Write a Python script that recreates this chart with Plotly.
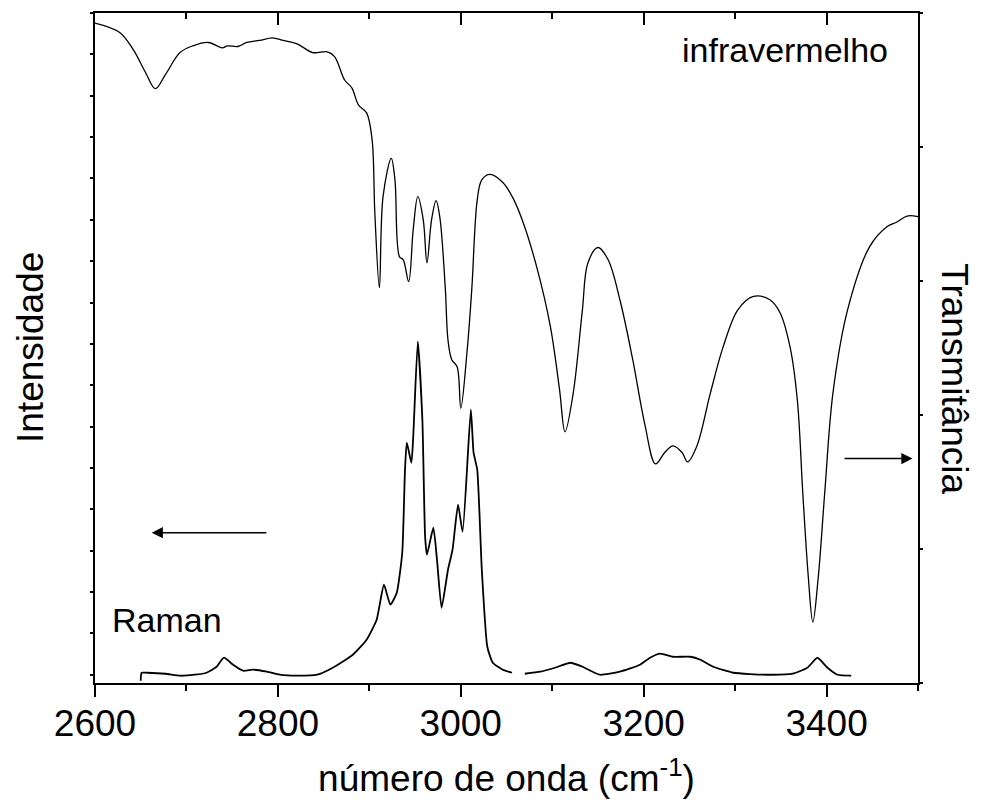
import plotly.graph_objects as go

# Infrared transmittance spectrum (wavenumber in cm-1, transmittance in %)
wn_ir = [2600, 2627, 2642, 2655, 2666, 2677, 2693, 2707, 2724, 2739, 2745, 2756, 2766,
         2780, 2794, 2806, 2821, 2838, 2854, 2862, 2873, 2881, 2888, 2897, 2903, 2906,
         2911, 2915, 2924, 2928, 2933, 2937, 2943, 2948, 2953, 2959, 2963, 2968, 2973,
         2977, 2983, 2986, 2990, 2996, 3000, 3007, 3012, 3018, 3023, 3032, 3046, 3057,
         3068, 3083, 3098, 3108, 3114, 3123, 3133, 3139, 3150, 3161, 3174, 3188, 3201,
         3213, 3223, 3232, 3242, 3248, 3258, 3273, 3287, 3303, 3320, 3338, 3349, 3360,
         3368, 3374, 3380, 3385, 3391, 3398, 3407, 3423, 3447, 3466, 3477, 3488, 3500]
trans_ir = [98.5, 97.1, 94.5, 91.2, 88.7, 90.8, 94.1, 95.1, 95.6, 94.8, 95.1, 95.0, 95.6,
            95.9, 96.3, 95.9, 95.4, 94.1, 94.2, 93.5, 90.0, 88.8, 86.3, 85.1, 81.1, 70.2,
            59.0, 72.6, 78.3, 75.1, 63.6, 63.2, 59.9, 67.7, 72.6, 69.1, 62.7, 69.1, 72.0,
            69.6, 59.1, 51.2, 48.3, 47.2, 41.0, 49.7, 58.7, 72.1, 75.1, 75.9, 74.7, 72.4,
            68.8, 62.1, 53.2, 43.8, 37.5, 43.3, 55.7, 62.7, 65.0, 63.2, 57.2, 48.3, 38.8,
            32.7, 34.4, 35.4, 34.4, 33.0, 35.3, 43.3, 50.2, 55.7, 57.7, 57.2, 55.3, 50.2,
            42.3, 28.4, 15.9, 9.1, 15.9, 28.4, 43.3, 55.7, 65.1, 68.1, 68.8, 69.7, 69.6]

# Raman spectrum, measured in two windows (arbitrary intensity units)
wn_raman_a = [2650, 2651, 2657, 2677, 2693, 2709, 2722, 2733, 2741, 2751, 2762, 2773,
              2788, 2802, 2821, 2843, 2860, 2882, 2897, 2908, 2916, 2923, 2930, 2936,
              2939, 2941, 2946, 2948, 2953, 2958, 2961, 2963, 2970, 2974, 2979, 2986,
              2991, 2997, 3002, 3011, 3014, 3018, 3023, 3029, 3035, 3046, 3056]
int_raman_a = [-145, 48, 48, 24, -24, 0, 48, 193, 411, 242, 97, 121,
               73, 0, -24, 0, 169, 484, 846, 1330, 2176, 1693, 1983, 2950,
               4957, 5610, 5126, 5755, 8052, 6166, 3337, 2902, 3554, 2781, 1620, 2539,
               3023, 4111, 3458, 6408, 5368, 4957, 2539, 677, 290, 121, 48]
wn_raman_b = [3070, 3087, 3103, 3120, 3133, 3152, 3174, 3196, 3207, 3218, 3232,
              3251, 3262, 3276, 3298, 3335, 3363, 3379, 3390, 3401, 3412, 3427]
int_raman_b = [24, 73, 169, 290, 193, 0, 73, 242, 411, 508, 435,
               435, 363, 193, 48, 0, 24, 169, 411, 169, 0, -24]

x_range = [2600, 3500]
x_ticks = [2600, 2800, 3000, 3200, 3400]
FONT = "Liberation Sans, Arial, sans-serif"

fig = go.Figure()

fig.add_trace(go.Scatter(
    x=wn_raman_a + [None] + wn_raman_b,
    y=int_raman_a + [None] + int_raman_b,
    mode="lines", line=dict(color="black", width=1.8, shape="spline", smoothing=0.5),
    connectgaps=False, showlegend=False, hoverinfo="skip", yaxis="y"))

fig.add_trace(go.Scatter(
    x=wn_ir, y=trans_ir, mode="lines",
    line=dict(color="black", width=1.3, shape="spline", smoothing=1.0),
    showlegend=False, yaxis="y2"))

# empty carrier so the top frame axis (inward ticks) is drawn
fig.add_trace(go.Scatter(
    x=x_range, y=[0, 0], mode="markers", marker=dict(opacity=0, size=1),
    showlegend=False, hoverinfo="skip", xaxis="x2", yaxis="y"))

axis_common = dict(showline=True, linecolor="black", linewidth=2, showgrid=False,
                   zeroline=False, tickcolor="black")

fig.update_layout(
    width=985, height=806,
    margin=dict(l=95, r=67, t=13, b=123),
    paper_bgcolor="white", plot_bgcolor="white",
    font=dict(family=FONT, color="black"),
    xaxis=dict(range=x_range, tickvals=x_ticks, ticks="outside", ticklen=12,
               tickwidth=2, tickfont=dict(size=37, family=FONT), ticklabelstandoff=-5,
               minor=dict(dtick=100, tick0=2600, ticks="outside", ticklen=6,
                          tickwidth=2, tickcolor="black"),
               title=dict(text="número de onda (cm<sup>-1</sup>)",
                          font=dict(size=37, family=FONT), standoff=22),
               **axis_common),
    xaxis2=dict(range=x_range, overlaying="x", side="top", anchor="y",
                tickvals=x_ticks, ticks="inside", ticklen=12, tickwidth=2,
                showticklabels=False,
                minor=dict(dtick=100, tick0=2600, ticks="inside", ticklen=6,
                           tickwidth=2, tickcolor="black"),
                **axis_common),
    yaxis=dict(range=[-200, 16000], dtick=1000, tick0=0, ticks="outside", ticklen=3,
               tickwidth=1.5, showticklabels=False, **axis_common),
    yaxis2=dict(range=[0, 100], dtick=20, tick0=0, overlaying="y", side="right",
                ticks="outside", ticklen=3, tickwidth=1.5, showticklabels=False,
                **axis_common),
)

annotations = [
    dict(text="Intensidade", xref="paper", yref="paper", x=0, y=0.5, xshift=-65,
         xanchor="center", yanchor="middle", textangle=-90, showarrow=False,
         font=dict(size=37, family=FONT)),
    dict(text="Transmitância", xref="paper", yref="paper", x=1, y=0.455, xshift=37,
         xanchor="center", yanchor="middle", textangle=90, showarrow=False,
         font=dict(size=37, family=FONT)),
    dict(text="infravermelho", xref="x", yref="paper", x=3355, y=0.945,
         xanchor="center", yanchor="middle", showarrow=False,
         font=dict(size=34, family=FONT)),
    dict(text="Raman", xref="x", yref="paper", x=2679, y=0.094,
         xanchor="center", yanchor="middle", showarrow=False,
         font=dict(size=34, family=FONT)),
    # arrows pointing to the axis each spectrum belongs to
    dict(x=2662, y=3434, ax=2789, ay=3434, xref="x", yref="y", axref="x", ayref="y",
         showarrow=True, arrowhead=2, arrowsize=1.6, arrowwidth=1.4, arrowcolor="black",
         text=""),
    dict(x=3494, y=33.5, ax=3418, ay=33.5, xref="x", yref="y2", axref="x", ayref="y2",
         showarrow=True, arrowhead=2, arrowsize=1.6, arrowwidth=1.4, arrowcolor="black",
         text=""),
]
fig.update_layout(annotations=annotations)

fig.write_html("out.html")
